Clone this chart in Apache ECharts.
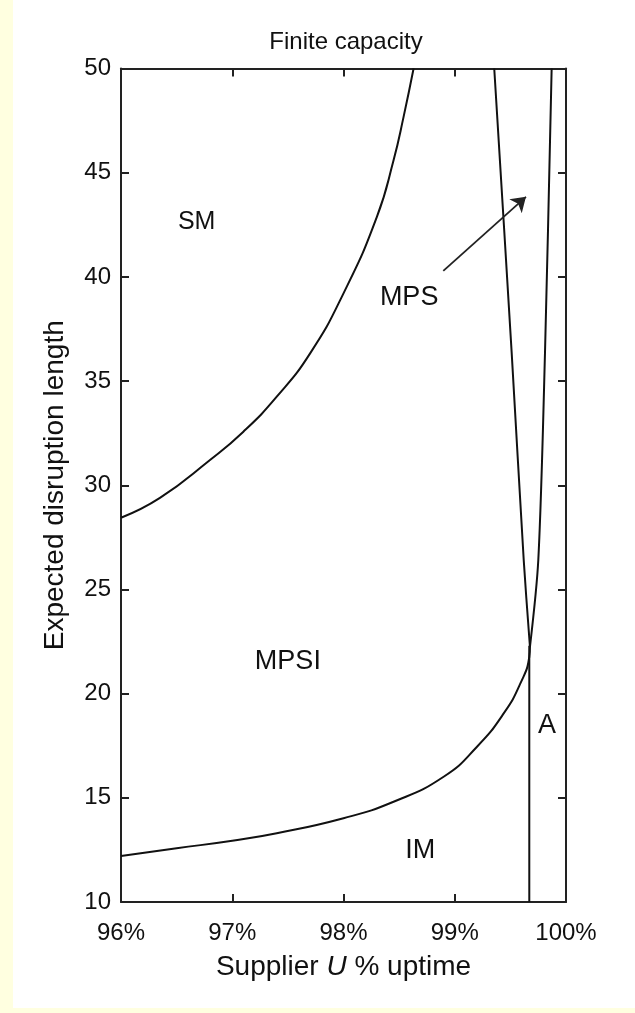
<!DOCTYPE html>
<html><head><meta charset="utf-8">
<script src="https://cdn.jsdelivr.net/npm/echarts@6/dist/echarts.min.js"></script>
<style>
html,body{margin:0;padding:0;background:#FFFFE0;width:635px;height:1013px;overflow:hidden}
#bg{position:absolute;left:13px;top:0;width:622px;height:1008px;background:#ffffff}
#chart{position:absolute;left:0;top:0;width:635px;height:1013px}
</style>
</head><body><div id="bg"></div><div id="chart"></div>
<script>
// Axis ranges / ticks
const xRange = [96, 100];
const yRange = [10, 50];
const xStep = 1;
const yStep = 5;

// Boundary curves: [uptime %, expected disruption length]
const smBoundary = [
  [96.00, 28.44], [96.35, 29.39], [96.80, 31.21], [97.10, 32.57], [97.40, 34.25],
  [97.70, 36.33], [98.00, 39.21], [98.30, 42.88], [98.45, 45.60], [98.54, 47.68], [98.63, 50.00]
];
const imBoundary = [
  [96.00, 12.21], [96.50, 12.58], [97.00, 12.94], [97.40, 13.30], [98.00, 14.02],
  [98.45, 14.81], [98.90, 16.01], [99.20, 17.45], [99.44, 19.05], [99.59, 20.49],
  [99.67, 21.77], [99.676, 22.24]
];
const mpsLeftBoundary = [
  [99.355, 50.00], [99.512, 36.33], [99.62, 26.41], [99.676, 22.24]
];
const mpsRightBoundary = [
  [99.871, 50.00], [99.811, 36.33], [99.751, 26.41], [99.676, 22.24]
];
const aBoundary = [
  [99.67, 10.00], [99.67, 22.30]
];

// Region labels
const regionNames = ['SM', 'MPS', 'MPSI', 'IM', 'A'];
const regionX = [96.68, 98.59, 97.50, 98.69, 99.83];
const regionY = [42.64, 39.02, 21.53, 12.46, 18.49];

// Arrow pointing into the MPS strip
const arrowFrom = [98.897, 40.29];
const arrowTo = [99.64, 43.84];

// styles (kept apart from the data)
const FONT = '"Liberation Sans", Arial, Helvetica, sans-serif';
const INK = '#111111';
const regionFontSize = { SM: 25, MPS: 27, MPSI: 27, IM: 27, A: 27 };

function curve(data, smooth) {
  return {
    type: 'line', data: data, showSymbol: false, symbol: 'none',
    smooth: smooth, smoothMonotone: null,
    lineStyle: { color: INK, width: 2 }, silent: true, z: 3, clip: true
  };
}

const axisCommon = {
  type: 'value',
  axisLine: { show: true, lineStyle: { color: '#222', width: 2 } },
  axisTick: { show: true, inside: true, length: 8, lineStyle: { color: '#222', width: 2 } },
  splitLine: { show: false }
};

const chart = echarts.init(document.getElementById('chart'), null, { renderer: 'canvas' });
chart.setOption({
  backgroundColor: 'transparent',
  animation: false,
  textStyle: { fontFamily: FONT },
  title: {
    text: 'Finite capacity', left: 341, top: 25, textAlign: 'center',
    textStyle: { fontFamily: FONT, fontSize: 24, fontWeight: 'normal', color: INK }
  },
  grid: { left: 121, right: 69, top: 68.5, bottom: 111, containLabel: false },
  xAxis: [
    Object.assign({}, axisCommon, {
      min: xRange[0], max: xRange[1], interval: xStep, position: 'bottom',
      axisLabel: { show: true, margin: 19, fontSize: 24, color: INK, fontFamily: FONT,
        formatter: function (v) { return v + '%'; } },
      name: 'Supplier {i|U} % uptime', nameLocation: 'middle', nameGap: 51,
      nameTextStyle: { fontSize: 28, color: INK, fontFamily: FONT,
        rich: { i: { fontStyle: 'italic', fontSize: 28, color: INK, fontFamily: FONT } } }
    }),
    Object.assign({}, axisCommon, {
      min: xRange[0], max: xRange[1], interval: xStep, position: 'top',
      axisLabel: { show: false }
    })
  ],
  yAxis: [
    Object.assign({}, axisCommon, {
      min: yRange[0], max: yRange[1], interval: yStep, position: 'left',
      axisLabel: { show: true, margin: 10, fontSize: 24, color: INK, fontFamily: FONT },
      name: 'Expected disruption length', nameLocation: 'middle', nameGap: 52,
      nameTextStyle: { fontSize: 28, color: INK, fontFamily: FONT }
    }),
    Object.assign({}, axisCommon, {
      min: yRange[0], max: yRange[1], interval: yStep, position: 'right',
      axisLabel: { show: false }
    })
  ],
  series: [
    curve(smBoundary, 0.5),
    curve(imBoundary, 0.5),
    curve(mpsLeftBoundary, 0.3),
    curve(mpsRightBoundary, 0.3),
    curve(aBoundary, false),
    {
      type: 'scatter', symbolSize: 0, silent: true, z: 4,
      itemStyle: { color: INK, opacity: 1 },
      data: regionNames.map(function (n, i) {
        return { name: n, value: [regionX[i], regionY[i]],
          label: { fontSize: regionFontSize[n] } };
      }),
      label: { show: true, position: [0, 0], align: 'center', verticalAlign: 'middle',
        formatter: '{b}', color: INK, opacity: 1, fontFamily: FONT }
    },
    {
      type: 'lines', coordinateSystem: 'cartesian2d', silent: true, z: 5,
      symbol: ['none', 'arrow'], symbolSize: 14,
      lineStyle: { color: '#222', width: 1.8, curveness: 0, opacity: 1 },
      data: [{ coords: [arrowFrom, arrowTo] }]
    }
  ]
});
</script>
</body></html>
